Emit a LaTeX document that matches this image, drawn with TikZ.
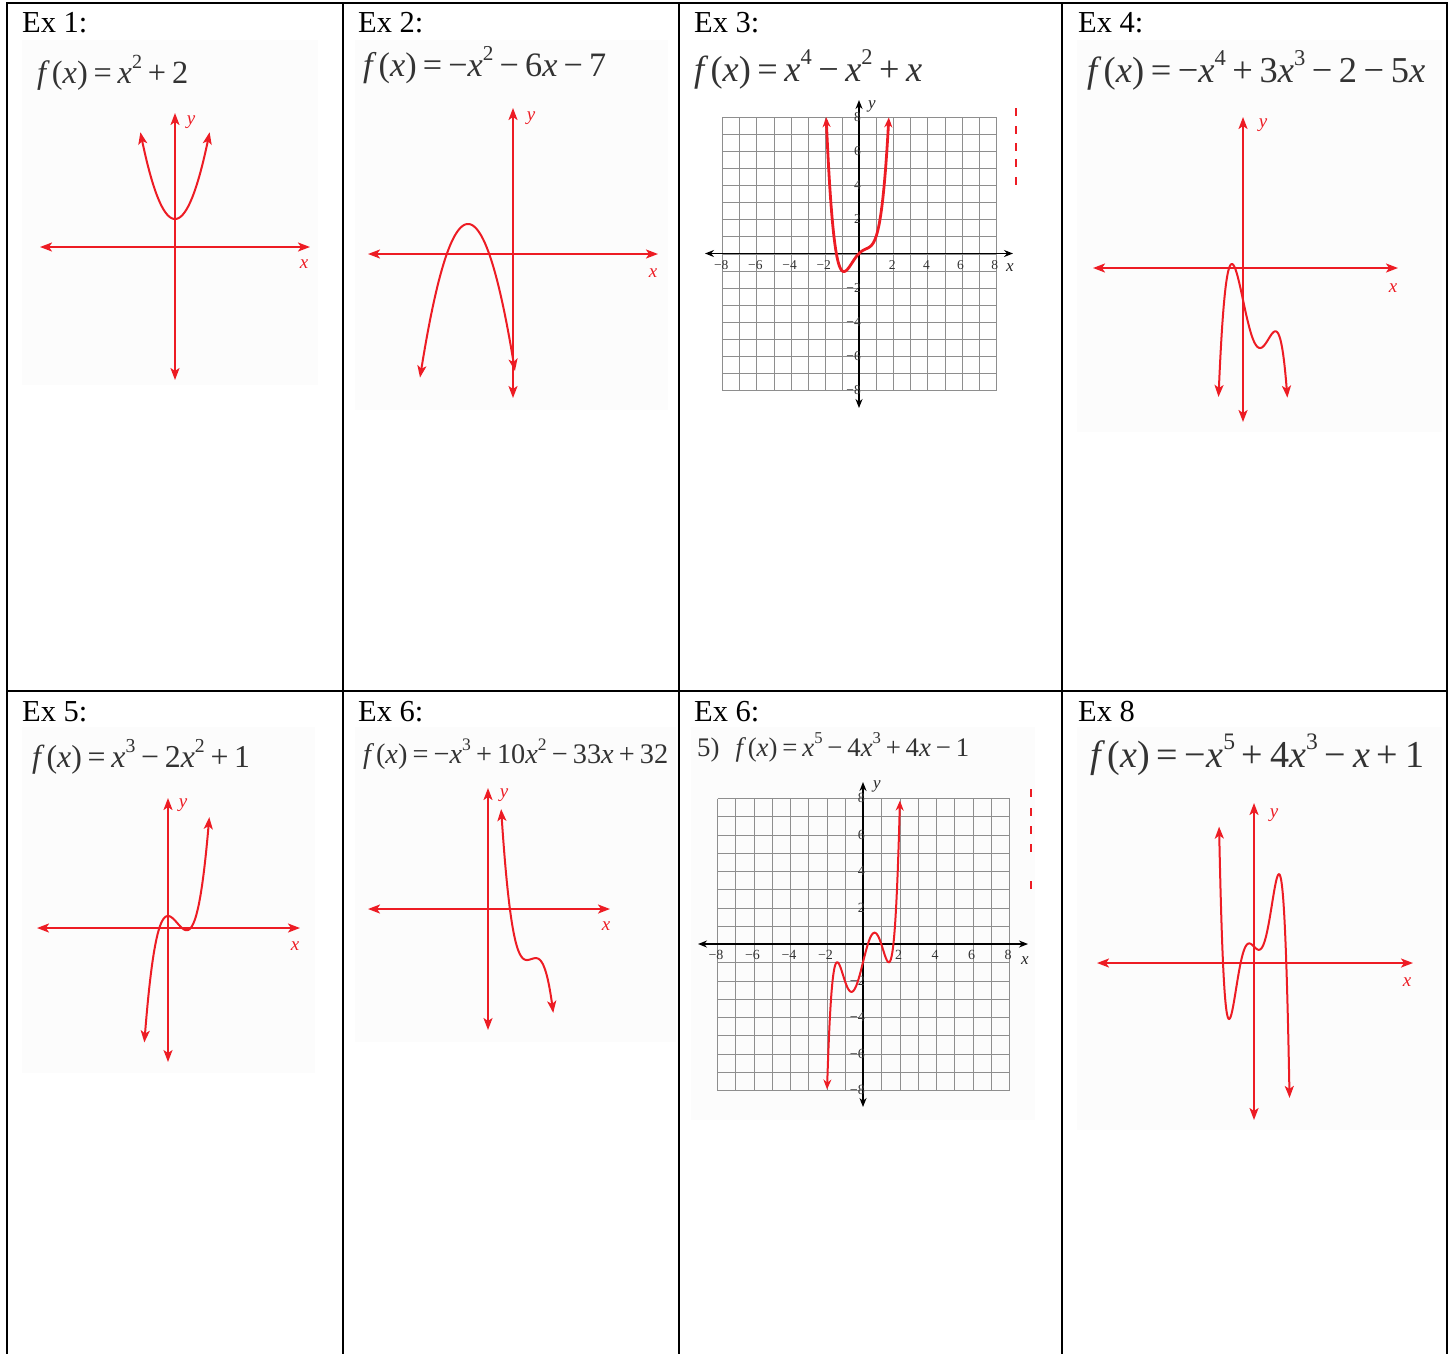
\documentclass[tikz,border=0pt]{standalone}
\usepackage{fontspec}
\setmainfont{Liberation Serif}
\usetikzlibrary{arrows.meta}
\definecolor{gred}{HTML}{ED1C24}
\definecolor{eqgray}{HTML}{333333}
\definecolor{gridgray}{HTML}{8E8E8E}
\definecolor{imgbg}{HTML}{FCFCFC}
\newcommand\spx[1]{\raisebox{0.45em}{\scalebox{0.62}{#1}}}
\newcommand\mi[1]{\textit{#1}}
\newcommand\fx{\textit{f}\kern0.06em(\textit{x})}
\newcommand\opr[1]{\hspace{0.18em}#1\hspace{0.18em}}
\tikzset{
  tablerule/.style={line width=2pt, black, line cap=rect},
  heading/.style={anchor=base west, inner sep=0pt, font=\fontsize{30.5}{36}\selectfont},
  eqn/.style={anchor=base west, inner sep=0pt, text=eqgray},
  imgbox/.style={fill=imgbg, draw=none},
  raxis/.style={gred, line width=2pt, {Stealth[length=12pt,width=9pt,inset=3pt]}-{Stealth[length=12pt,width=9pt,inset=3pt]}},
  rcurve/.style={gred, line width=2pt, {Stealth[length=12pt,width=9pt,inset=3pt]}-{Stealth[length=12pt,width=9pt,inset=3pt]}},
  rlabel/.style={gred, inner sep=0pt, font=\fontsize{19}{19}\selectfont\itshape},
  gline/.style={gridgray, line width=1.4pt},
  baxis/.style={black, line width=1.5pt, {Stealth[length=9pt,width=7pt]}-{Stealth[length=9pt,width=7pt]}},
  gcurve/.style={gred, line width=2.8pt, -{Stealth[length=10pt,width=8pt]}},
  gcurveb/.style={gred, line width=2pt, {Stealth[length=10pt,width=8pt]}-{Stealth[length=10pt,width=8pt]}},
  ticklab/.style={inner sep=0pt, text=black!80, font=\fontsize{13.5}{13.5}\selectfont},
  blabel/.style={inner sep=0pt, text=black!85, font=\fontsize{17}{17}\selectfont\itshape},
  redmark/.style={gred, line width=1.6pt}
}
\begin{document}
\begin{tikzpicture}[x=1pt,y=-1pt]
\useasboundingbox (0,0) rectangle (1455,1353);
\fill[white] (0,0) rectangle (1455,1353);

% pasted image backgrounds
\fill[imgbox] (22,40) rectangle (318,385);
\fill[imgbox] (355,40) rectangle (668,410);
\fill[imgbox] (1077,40) rectangle (1442,432);
\fill[imgbox] (22,727) rectangle (315,1073);
\fill[imgbox] (355,727) rectangle (676,1042);
\fill[imgbox] (691,727) rectangle (1035,1120);
\fill[imgbox] (1077,727) rectangle (1442,1130);

% table
\coordinate (tl) at (7,3);
\coordinate (tr) at (1447,3);
\coordinate (ml) at (7,690.5);
\coordinate (mr) at (1447,690.5);
\coordinate (b0) at (7,1353);
\coordinate (t1) at (343.3,3);  \coordinate (b1) at (343.3,1353);
\coordinate (t2) at (678.6,3);  \coordinate (b2) at (678.6,1353);
\coordinate (t3) at (1061.8,3); \coordinate (b3) at (1061.8,1353);
\coordinate (b4) at (1447,1353);
\draw[tablerule] (tl) -- (tr);
\draw[tablerule] (ml) -- (mr);
\draw[tablerule] (tl) -- (b0);
\draw[tablerule] (t1) -- (b1);
\draw[tablerule] (t2) -- (b2);
\draw[tablerule] (t3) -- (b3);
\draw[tablerule] (tr) -- (b4);

% headings
\node[heading] (h1) at (22,32.5) {Ex 1:};
\node[heading] (h2) at (358,32.5) {Ex 2:};
\node[heading] (h3) at (694,32.5) {Ex 3:};
\node[heading] (h4) at (1078,32.5) {Ex 4:};
\node[heading] (h5) at (22,721) {Ex 5:};
\node[heading] (h6) at (358,721) {Ex 6:};
\node[heading] (h7) at (694,721) {Ex 6:};
\node[heading] (h8) at (1078,721) {Ex 8};

% equations
\node[eqn] (e1) at (37,83) {\resizebox{151pt}{!}{\fx\opr{=}\mi{x}\spx{2}\opr{+}2}};
\node[eqn] (e2) at (363,76) {\resizebox{243pt}{!}{\fx\opr{=}−\mi{x}\spx{2}\opr{−}6\mi{x}\opr{−}7}};
\node[eqn] (e3) at (694,81) {\resizebox{228pt}{!}{\fx\opr{=}\mi{x}\spx{4}\opr{−}\mi{x}\spx{2}\opr{+}\mi{x}}};
\node[eqn] (e4) at (1087,82) {\resizebox{338pt}{!}{\fx\opr{=}−\mi{x}\spx{4}\opr{+}3\mi{x}\spx{3}\opr{−}2\opr{−}5\mi{x}}};
\node[eqn] (e5) at (32,767) {\resizebox{218pt}{!}{\fx\opr{=}\mi{x}\spx{3}\opr{−}2\mi{x}\spx{2}\opr{+}1}};
\node[eqn] (e6) at (363,763) {\resizebox{305pt}{!}{\fx\opr{=}−\mi{x}\spx{3}\opr{+}10\mi{x}\spx{2}\opr{−}33\mi{x}\opr{+}32}};
\node[eqn] (e7) at (697,756) {\resizebox{272pt}{!}{5)\hspace{0.6em}\fx\opr{=}\mi{x}\spx{5}\opr{−}4\mi{x}\spx{3}\opr{+}4\mi{x}\opr{−}1}};
\node[eqn] (e8) at (1090,767) {\resizebox{334pt}{!}{\fx\opr{=}−\mi{x}\spx{5}\opr{+}4\mi{x}\spx{3}\opr{−}\mi{x}\opr{+}1}};

% ---------- Ex 1 ----------
\coordinate (a1l) at (40,247);  \coordinate (a1r) at (310,247);
\coordinate (a1t) at (175,113); \coordinate (a1b) at (175,380);
\draw[raxis] (a1l) -- (a1r);
\draw[raxis] (a1b) -- (a1t);
\draw[rcurve] plot[domain=-2.49:2.49, samples=80] ({175+13.9*\x},{247-14*((\x)*(\x)+2)});
\node[rlabel] (y1) at (191,122) {y};
\node[rlabel] (x1) at (304,264) {x};

% ---------- Ex 2 ----------
\coordinate (a2l) at (368,254);  \coordinate (a2r) at (658,254);
\coordinate (a2t) at (513,108);  \coordinate (a2b) at (513,398);
\draw[raxis] (a2l) -- (a2r);
\draw[raxis] (a2b) -- (a2t);
\draw[rcurve] plot[domain=-6.2:0.13, samples=100] ({513+15*\x},{254-15*(2-((\x)+3)*((\x)+3))});
\node[rlabel] (y2) at (531,118) {y};
\node[rlabel] (x2) at (653,273) {x};

% ---------- Ex 3 ----------
\foreach \i in {0,...,16} {
  \pgfmathsetmacro\gx{round(722.2+17.1*\i)+0.5}
  \pgfmathsetmacro\gy{round(116.7+17.1*\i)+0.5}
  \draw[gline] (\gx,117) -- (\gx,390.5);
  \draw[gline] (722.7,\gy) -- (996.5,\gy);
}
\coordinate (a3l) at (705,253.5);  \coordinate (a3r) at (1013,253.5);
\coordinate (a3t) at (859,100);    \coordinate (a3b) at (859,408);
\draw[baxis] (a3l) -- (a3r);
\draw[baxis] (a3b) -- (a3t);
\foreach \k/\t in {-8/−8,-6/−6,-4/−4,-2/−2,2/2,4/4,6/6,8/8} {
  \node[ticklab] (t3x\k) at ({859-1+17.1*\k},265) {\t};
  \node[ticklab, anchor=east] (t3y\k) at (861,{253.5-17.1*\k}) {\t};
}
\node[blabel] (y3) at (872,106) {y};
\node[blabel] (x3) at (1010,268) {x};
\draw[gcurve] plot[domain=-1.5:-1.92, samples=60] ({859+17.1*\x},{253.5-17.1*((\x)*(\x)*(\x)*(\x)-(\x)*(\x)+(\x))});
\draw[gcurve] plot[domain=-1.5:1.745, samples=150] ({859+17.1*\x},{253.5-17.1*((\x)*(\x)*(\x)*(\x)-(\x)*(\x)+(\x))});
\foreach \yy in {112,130,147,163,181} \draw[redmark] (1016,\yy-4) -- (1016,\yy+4);

% ---------- Ex 4 ----------
\coordinate (a4l) at (1093,268);  \coordinate (a4r) at (1398,268);
\coordinate (a4t) at (1243,117);  \coordinate (a4b) at (1243,422);
\draw[raxis] (a4l) -- (a4r);
\draw[raxis] (a4b) -- (a4t);
\draw[rcurve] plot[domain=-1.44:2.61, samples=150] ({1243+17*\x},{268-16*(-(\x)*(\x)*(\x)*(\x)+3*(\x)*(\x)*(\x)-2-5*(\x))});
\node[rlabel] (y4) at (1263,125) {y};
\node[rlabel] (x4) at (1393,288) {x};

% ---------- Ex 5 ----------
\coordinate (a5l) at (37,928);  \coordinate (a5r) at (300,928);
\coordinate (a5t) at (168,798); \coordinate (a5b) at (168,1062);
\draw[raxis] (a5l) -- (a5r);
\draw[raxis] (a5b) -- (a5t);
\draw[rcurve] plot[domain=-1.69:2.95, samples=150] ({168+14*\x},{928-12*((\x)*(\x)*(\x)-2*(\x)*(\x)+1)});
\node[rlabel] (y5) at (183,805) {y};
\node[rlabel] (x5) at (295,946) {x};

% ---------- Ex 6 ----------
\coordinate (a6l) at (368,909);  \coordinate (a6r) at (610,909);
\coordinate (a6t) at (488,788);  \coordinate (a6b) at (488,1030);
\draw[raxis] (a6l) -- (a6r);
\draw[raxis] (a6b) -- (a6t);
\draw[rcurve] plot[domain=1.01:5.02, samples=150] ({488+13*\x},{909-12.75*(-(\x)*(\x)*(\x)+10*(\x)*(\x)-33*(\x)+32)});
\node[rlabel] (y6) at (504,795) {y};
\node[rlabel] (x6) at (606,926) {x};

% ---------- Ex 6 (grid) ----------
\foreach \i in {0,...,16} {
  \pgfmathsetmacro\gx{round(717+18.25*\i)+0.5}
  \pgfmathsetmacro\gy{round(798+18.25*\i)+0.5}
  \draw[gline] (\gx,798.5) -- (\gx,1090.5);
  \draw[gline] (717.5,\gy) -- (1009.5,\gy);
}
\coordinate (a7l) at (698,944);  \coordinate (a7r) at (1028,944);
\coordinate (a7t) at (863,782);  \coordinate (a7b) at (863,1107);
\draw[baxis] (a7l) -- (a7r);
\draw[baxis] (a7b) -- (a7t);
\foreach \k/\t in {-8/−8,-6/−6,-4/−4,-2/−2,2/2,4/4,6/6,8/8} {
  \node[ticklab, font=\fontsize{14}{14}\selectfont] (t7x\k) at ({863-1+18.25*\k},955) {\t};
  \node[ticklab, anchor=east, font=\fontsize{14}{14}\selectfont] (t7y\k) at (865,{944-18.25*\k}) {\t};
}
\node[blabel] (y7) at (877,786) {y};
\node[blabel] (x7) at (1025,961) {x};
\draw[gcurveb] plot[domain=-1.97:2.025, samples=200] ({863+18.25*\x},{944-18.25*((\x)*(\x)*(\x)*(\x)*(\x)-4*(\x)*(\x)*(\x)+4*(\x)-1)});
\foreach \yy in {793,812,830,848,885} \draw[redmark] (1031,\yy-4) -- (1031,\yy+4);

% ---------- Ex 8 ----------
\coordinate (a8l) at (1097,963);  \coordinate (a8r) at (1413,963);
\coordinate (a8t) at (1254,803);  \coordinate (a8b) at (1254,1120);
\draw[raxis] (a8l) -- (a8r);
\draw[raxis] (a8b) -- (a8t);
\draw[rcurve] plot[domain=-2.13:2.167, samples=200] ({1254+16.4*\x},{963-16.4*(-(\x)*(\x)*(\x)*(\x)*(\x)+4*(\x)*(\x)*(\x)-(\x)+1)});
\node[rlabel] (y8) at (1274,815) {y};
\node[rlabel] (x8) at (1407,982) {x};
\end{tikzpicture}
\end{document}
